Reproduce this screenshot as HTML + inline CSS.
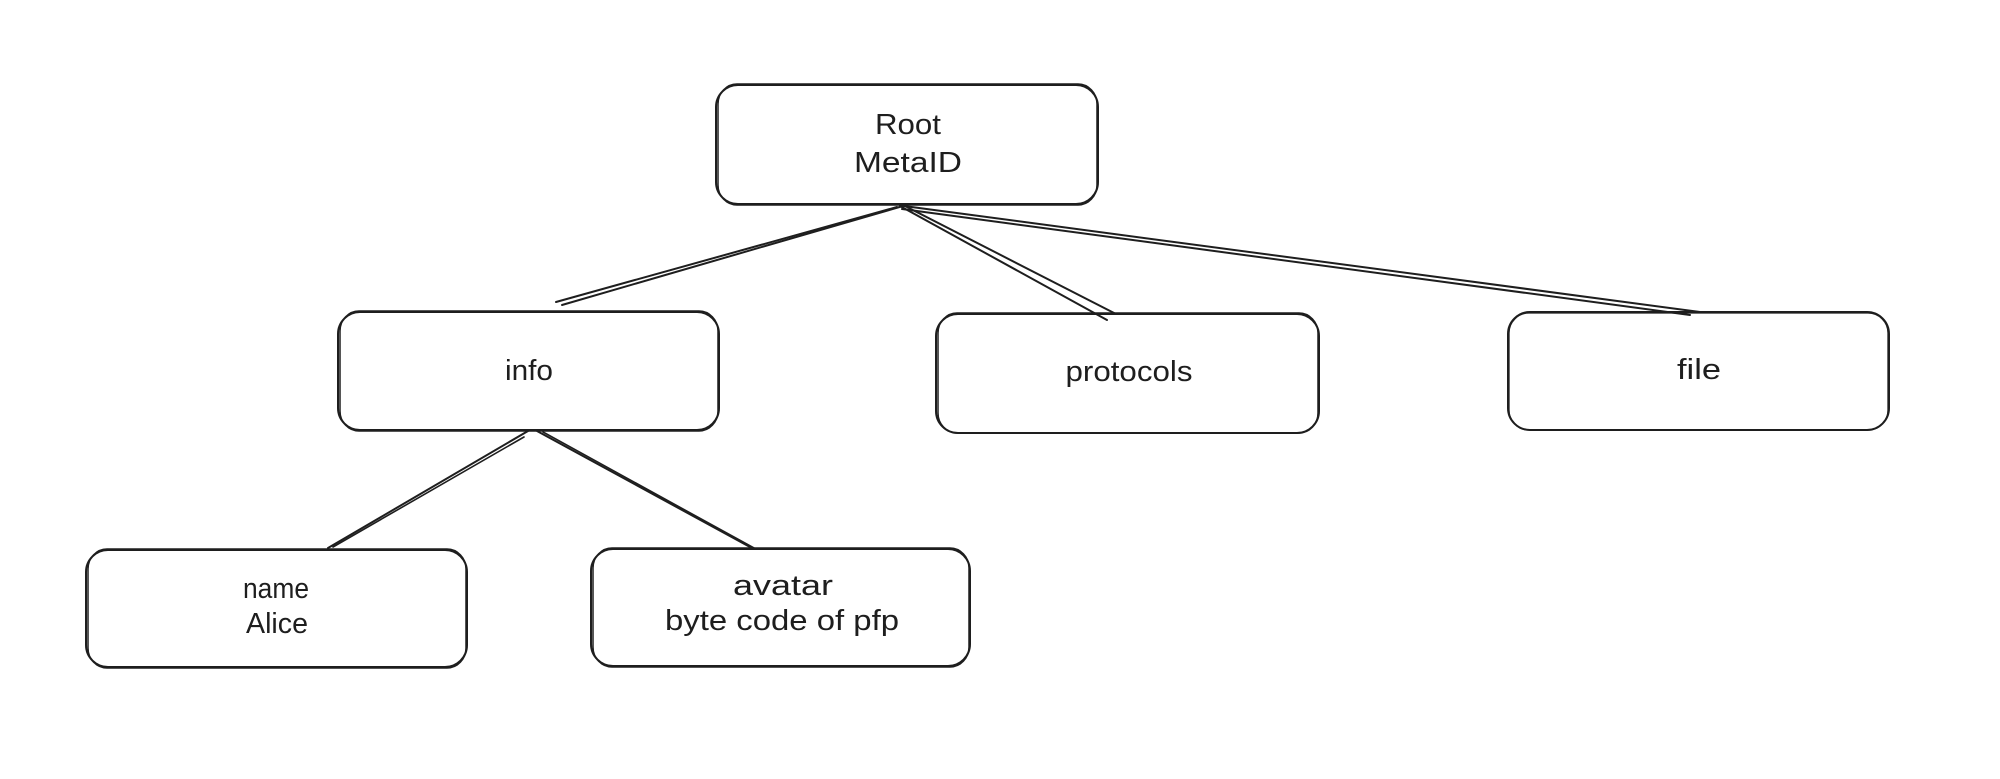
<!DOCTYPE html>
<html>
<head>
<meta charset="utf-8">
<style>
  html, body { margin: 0; padding: 0; background: #ffffff; }
  body { width: 2000px; height: 779px; overflow: hidden; }
  svg { display: block; }
  text { font-family: "Liberation Sans", "DejaVu Sans", sans-serif; font-size: 29px; fill: #1e1e1e; text-anchor: middle; }
</style>
</head>
<body>
<svg width="2000" height="779" viewBox="0 0 2000 779" xmlns="http://www.w3.org/2000/svg">
  <rect x="0" y="0" width="2000" height="779" fill="#ffffff"/>
  <g fill="none" stroke="#1e1e1e" stroke-linecap="round" stroke-linejoin="round">
    <!-- connectors root -> children -->
    <line x1="897" y1="207" x2="556" y2="302" stroke-width="2"/>
    <line x1="903" y1="206" x2="562" y2="305" stroke-width="2"/>
    <line x1="900" y1="206" x2="1107" y2="320" stroke-width="2"/>
    <line x1="905" y1="206" x2="1116" y2="314" stroke-width="2"/>
    <line x1="904" y1="206" x2="1700" y2="312" stroke-width="2"/>
    <line x1="902" y1="209" x2="1690" y2="315" stroke-width="2"/>
    <!-- connectors info -> children -->
    <line x1="528" y1="431" x2="328" y2="548" stroke-width="2"/>
    <line x1="524" y1="437" x2="333" y2="547" stroke-width="1.6"/>
    <line x1="537" y1="431" x2="750" y2="547" stroke-width="2"/>
    <line x1="543" y1="432" x2="754" y2="548" stroke-width="1.6"/>

    <!-- Root -->
    <rect x="716" y="85" width="382" height="119" rx="22" ry="22" stroke-width="2"/>
    <rect x="718" y="84" width="379" height="121" rx="19" ry="20" stroke-width="1.5"/>
    <!-- info -->
    <rect x="338" y="312" width="381" height="118" rx="22" ry="22" stroke-width="2"/>
    <rect x="340" y="311" width="378" height="120" rx="19" ry="20" stroke-width="1.5"/>
    <!-- protocols -->
    <rect x="936" y="314" width="383" height="119" rx="22" ry="22" stroke-width="2"/>
    <rect x="938" y="313" width="380" height="120" rx="19" ry="20" stroke-width="1.5"/>
    <!-- file -->
    <rect x="1508" y="312" width="381" height="118" rx="22" ry="22" stroke-width="2"/>
    <rect x="1509" y="313" width="379" height="117" rx="20" ry="20" stroke-width="1.3"/>
    <!-- name -->
    <rect x="86" y="550" width="381" height="117" rx="22" ry="22" stroke-width="2"/>
    <rect x="88" y="549" width="378" height="119" rx="19" ry="20" stroke-width="1.5"/>
    <!-- avatar -->
    <rect x="591" y="549" width="379" height="117" rx="22" ry="22" stroke-width="2"/>
    <rect x="593" y="548" width="376" height="119" rx="19" ry="20" stroke-width="1.5"/>
  </g>

  <text x="908" y="134" textLength="66" lengthAdjust="spacingAndGlyphs">Root</text>
  <text x="908" y="172" textLength="108" lengthAdjust="spacingAndGlyphs">MetaID</text>
  <text x="529" y="380" textLength="48" lengthAdjust="spacingAndGlyphs">info</text>
  <text x="1129" y="381" textLength="127" lengthAdjust="spacingAndGlyphs">protocols</text>
  <text x="1699" y="379" textLength="44" lengthAdjust="spacingAndGlyphs">file</text>
  <text x="276" y="598" textLength="66" lengthAdjust="spacingAndGlyphs">name</text>
  <text x="277" y="633" textLength="62" lengthAdjust="spacingAndGlyphs">Alice</text>
  <text x="783" y="595" textLength="100" lengthAdjust="spacingAndGlyphs">avatar</text>
  <text x="782" y="630" textLength="234" lengthAdjust="spacingAndGlyphs">byte code of pfp</text>
</svg>
</body>
</html>
